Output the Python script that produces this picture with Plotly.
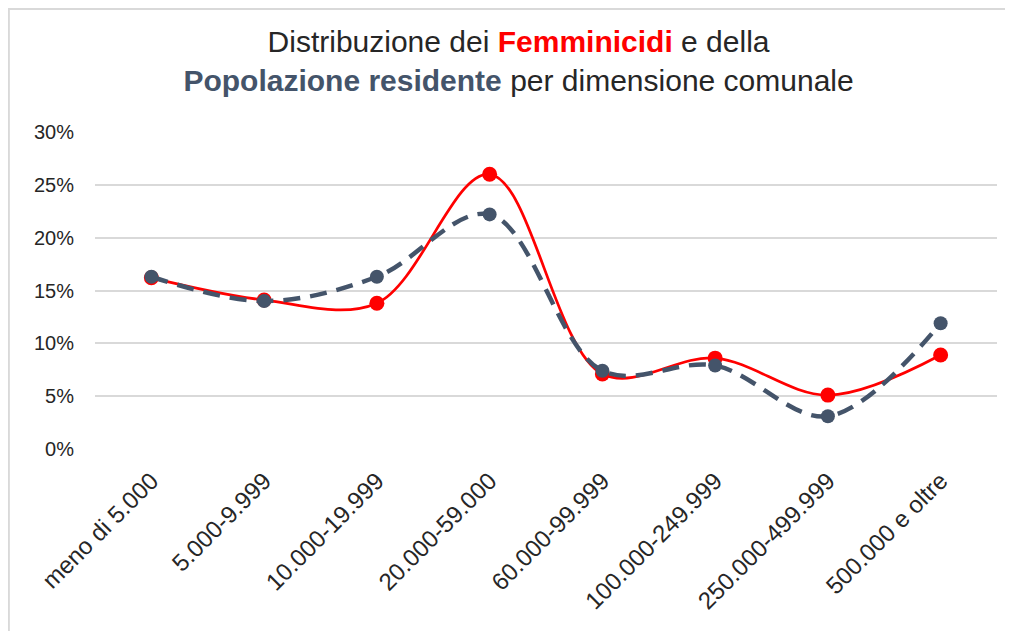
import plotly.graph_objects as go

CATEGORIES = ["meno di 5.000", "5.000-9.999", "10.000-19.999", "20.000-59.000",
              "60.000-99.999", "100.000-249.999", "250.000-499.999", "500.000 e oltre"]
FEMMINICIDI = [0.162, 0.141, 0.138, 0.260, 0.071, 0.086, 0.051, 0.089]
POPOLAZIONE = [0.163, 0.140, 0.163, 0.222, 0.074, 0.079, 0.031, 0.119]
Y_TICKS = [0, 0.05, 0.10, 0.15, 0.20, 0.25, 0.30]

RED = "#FF0000"
SLATE = "#44546A"
TEXT = "#262626"
FONT = "Liberation Sans, Arial, sans-serif"

fig = go.Figure()
fig.add_trace(go.Scatter(
    x=CATEGORIES, y=FEMMINICIDI, mode="lines+markers", name="Femminicidi",
    line=dict(color=RED, width=2.75, shape="spline", smoothing=1.0),
    marker=dict(color=RED, size=15),
))
fig.add_trace(go.Scatter(
    x=CATEGORIES, y=POPOLAZIONE, mode="lines+markers", name="Popolazione residente",
    line=dict(color=SLATE, width=4.5, dash="17px,10px", shape="spline", smoothing=1.0),
    marker=dict(color=SLATE, size=14),
))

title = ("Distribuzione dei <span style='color:#FF0000'><b>Femminicidi</b></span> e della<br>"
         "<span style='color:#44546A'><b>Popolazione residente</b></span> per dimensione comunale")

# page body has an 8px margin, so the figure is sized to what stays visible
fig.update_layout(
    width=1005, height=623,
    paper_bgcolor="white", plot_bgcolor="white",
    font=dict(family=FONT, size=20, color=TEXT),
    title=dict(text=title, x=0.508, xanchor="center", y=0.93, yanchor="top",
               font=dict(family=FONT, size=30, color=TEXT)),
    showlegend=False,
    margin=dict(l=87, r=16, t=124, b=182),
    xaxis=dict(type="category", range=[-0.5, 7.5], tickangle=-45,
               showgrid=False, zeroline=False, showline=False, ticks="",
               ticklabelstandoff=12, automargin=False,
               tickfont=dict(size=24, color=TEXT)),
    yaxis=dict(range=[0, 0.30], tickvals=Y_TICKS, tickformat=".0%",
               showgrid=True, gridcolor="#D9D9D9", gridwidth=1.5,
               zeroline=False, showline=False, ticks="", ticklabelstandoff=20,
               automargin=False, tickfont=dict(size=20, color=TEXT)),
    shapes=[dict(type="rect", xref="paper", yref="paper",
                 x0=-0.0955, x1=1.05, y0=-0.7, y1=1.388,
                 line=dict(color="#D9D9D9", width=2), layer="below")],
)

fig.write_html("out.html")
